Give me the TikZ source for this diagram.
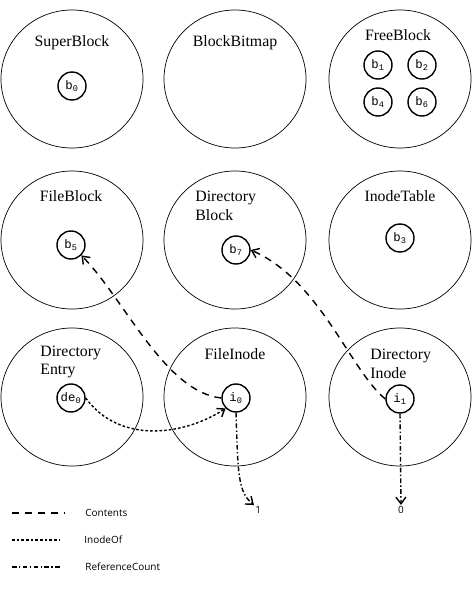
\documentclass[tikz,border=0pt]{standalone}
\usepackage{fontspec}
\setmainfont{Liberation Serif}
\setmonofont{Liberation Mono}
\newfontfamily\legfont{Open Sans}
\usepackage{tikz}
\usetikzlibrary{shapes.geometric,arrows.meta,positioning}
\tikzset{
  part/.style={draw,ellipse,line width=0.6pt,minimum width=4.26cm,minimum height=4.14cm,inner sep=0pt},
  blk/.style={draw,circle,line width=1.2pt,minimum size=0.84cm,inner sep=0pt,font=\fontsize{10.5}{12}\ttfamily},
  ttl/.style={font=\fontsize{13.5}{16}\selectfont,align=center,inner sep=1pt},
  ttll/.style={ttl,align=left,anchor=west},
  cont/.style={-{Straight Barb[length=2mm,width=3mm]},line width=1.2pt,dash pattern=on 6pt off 5pt},
  inof/.style={-{Straight Barb[length=2mm,width=3mm]},line width=1.2pt,dash pattern=on 2.2pt off 1.8pt},
  refc/.style={-{Straight Barb[length=2mm,width=3mm]},line width=1.2pt,dash pattern=on 4pt off 2pt on 1.2pt off 2pt},
  leg/.style={font=\legfont\fontsize{8.5}{10}\selectfont,anchor=west,inner sep=1pt}
}
\begin{document}
\begin{tikzpicture}[x=0.03cm,y=-0.03cm]
\useasboundingbox (0,0) rectangle (474,591);
\newcommand{\blkn}[3]{\node[blk] (#1) at (#2) {#3};}
% first row
\node[part] (super) at (72,79) {};
\node[part] (bitmap) at (235,79) {};
\node[part] (free) at (400,79) {};
\node[ttl] (tsuper) at (72,43) {SuperBlock};
\node[ttl] (tbitmap) at (235,43) {BlockBitmap};
\node[ttl] (tfree) at (398,35) {FreeBlock};
\blkn{b0}{72,86}{b\textsubscript{0}}
\blkn{b1}{378,65}{b\textsubscript{1}}
\blkn{b2}{422,65}{b\textsubscript{2}}
\blkn{b4}{378,102}{b\textsubscript{4}}
\blkn{b6}{422,102}{b\textsubscript{6}}
% second row
\node[part] (fblock) at (72,240) {};
\node[part] (dblock) at (235,240) {};
\node[part] (itable) at (400,240) {};
\node[ttl] (tfblock) at (71,196) {FileBlock};
\node[ttll] (tdblock) at (194,206) {Directory\\Block};
\node[ttl] (titable) at (400,196) {InodeTable};
\blkn{b5}{71,245}{b\textsubscript{5}}
\blkn{b7}{236,250}{b\textsubscript{7}}
\blkn{b3}{400,238}{b\textsubscript{3}}
% third row
\node[part] (dentry) at (72,397) {};
\node[part] (finode) at (235,397) {};
\node[part] (dinode) at (400,397) {};
\node[ttll] (tdentry) at (39,362) {Directory\\Entry};
\node[ttl] (tfinode) at (235,354) {FileInode};
\node[ttll] (tdinode) at (369,364) {Directory\\Inode};
\blkn{de0}{71,398}{de\textsubscript{0}}
\blkn{i0}{236,398}{i\textsubscript{0}}
\blkn{i1}{400,399}{i\textsubscript{1}}
% counts
\node[leg] (one) at (254,510) {1};
\node[leg,anchor=center] (zero) at (401,510) {0};
% relations
\draw[cont] (i0.west) .. controls (165,392) and (125,300) .. (b5.south east);
\draw[cont] (i1.west) .. controls (350,370) and (320,280) .. (b7.east);
\draw[inof] (de0.east) .. controls (120,445) and (185,435) .. (i0.south west);
\draw[refc] (i0.south) .. controls (238,475) and (238,492) .. (one.north west);
\draw[refc] (i1.south) -- (zero.north);
% legend
\coordinate (c1) at (12,513); \coordinate (c2) at (64,513);
\coordinate (o1) at (12,540); \coordinate (o2) at (60,540);
\coordinate (r1) at (12,567); \coordinate (r2) at (60,567);
\draw[cont,-] (c1) -- (c2);
\draw[inof,-] (o1) -- (o2);
\draw[refc,-] (r1) -- (r2);
\node[leg] (lcont) at (84,513) {Contents};
\node[leg] (linof) at (83,540) {InodeOf};
\node[leg] (lrefc) at (84,567) {ReferenceCount};
\end{tikzpicture}
\end{document}
